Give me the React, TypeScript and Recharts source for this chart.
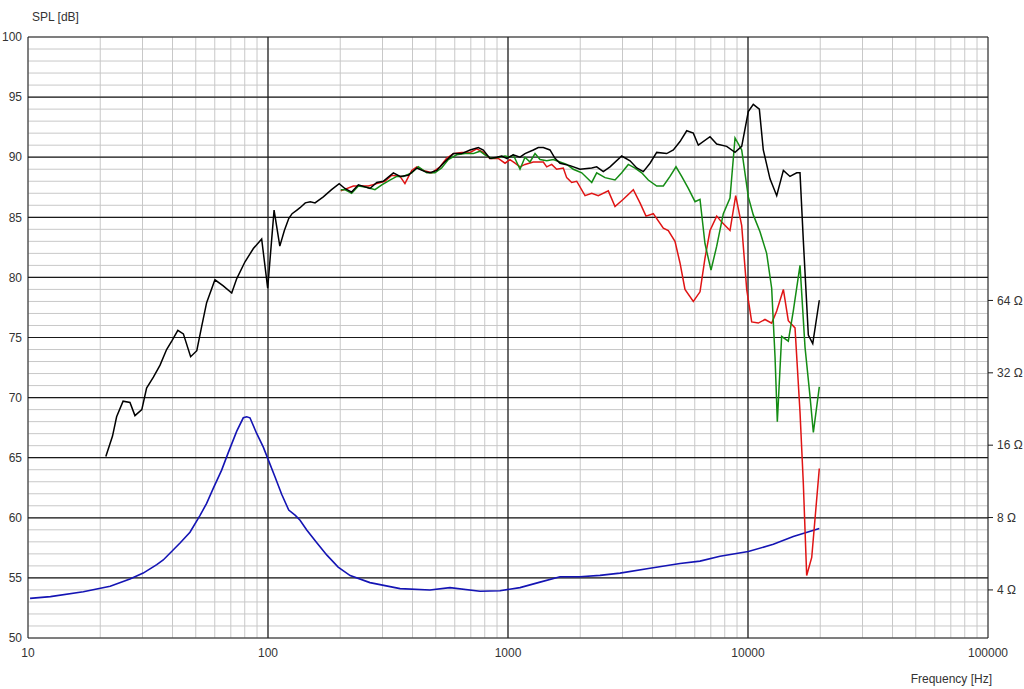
import React from "react";
import { CartesianGrid, Line, LineChart, ReferenceLine, XAxis, YAxis } from "recharts";

// frequency axis grid (log) and level grid
const freqTicks = [
  10, 20, 30, 40, 50, 60, 70, 80, 90,
  100, 200, 300, 400, 500, 600, 700, 800, 900,
  1000, 2000, 3000, 4000, 5000, 6000, 7000, 8000, 9000,
  10000, 20000, 30000, 40000, 50000, 60000, 70000, 80000, 90000,
  100000,
];
const decades = [10, 100, 1000, 10000, 100000];
const splTicks = Array.from({ length: 51 }, (_, i) => 50 + i);
const splMajor = [55, 60, 65, 70, 75, 80, 85, 90, 95];
const ohmTicks = [4, 8, 16, 32, 64];

// on-axis response (black)
const blackFreq = [
  21.1, 22.5, 23.4, 24.9, 26.6, 27.9, 29.8, 31.2, 33.3, 35.5, 37.8, 39.7, 42.1, 44.4, 47.6, 50.5,
  52.9, 55.5, 60.1, 65.1, 70.6, 74.1, 80.2, 86.9, 94.1, 99.7, 106, 112, 117, 122, 126, 132, 136,
  143, 150, 157, 170, 184, 198, 209, 223, 238, 266, 284, 302, 333, 355, 384, 417, 451, 473, 505,
  538, 592, 641, 695, 752, 789, 841, 898, 941, 988, 1052, 1122, 1177, 1275, 1337, 1403, 1496,
  1570, 1647, 1813, 1995, 2233, 2342, 2495, 2661, 2977, 3225, 3439, 3663, 3906, 4165, 4584, 4885,
  5208, 5555, 5918, 6209, 6946, 7407, 8152, 8830, 9414, 10030, 10520, 11150, 11580, 12350, 13170,
  14040, 14960, 15960, 16470, 17000, 17560, 17840, 18610, 19820,
];
const blackSpl = [
  65.1, 66.8, 68.4, 69.7, 69.6, 68.5, 69.0, 70.8, 71.7, 72.7, 74.0, 74.7, 75.6, 75.3, 73.4, 73.9,
  75.9, 77.9, 79.8, 79.3, 78.7, 79.9, 81.3, 82.4, 83.2, 79.1, 85.6, 82.6, 83.9, 84.9, 85.3, 85.6, 85.8,
  86.2, 86.3, 86.2, 86.7, 87.3, 87.8, 87.4, 87.1, 87.7, 87.4, 87.9, 88.0, 88.7, 88.4, 88.5, 89.1, 88.8, 88.7, 88.9,
  89.5, 90.3, 90.3, 90.6, 90.8, 90.6, 89.9, 90.0, 90.1, 89.9, 90.2, 90.0, 90.3, 90.6, 90.8, 90.8, 90.6,
  89.9, 89.5, 89.3, 89.0, 89.1, 89.2, 88.8, 89.2, 90.1, 89.7, 89.1, 88.8, 89.5, 90.4, 90.3, 90.6,
  91.3, 92.2, 92.0, 91.0, 91.7, 91.1, 90.9, 90.4, 90.9, 93.8, 94.4, 94.0, 90.6, 88.2, 86.8,
  88.9, 88.4, 88.7, 88.7, 83.1, 77.8, 75.2, 74.5, 78.1,
];

// red response
const redFreq = [
  201, 227, 242, 262, 284, 307, 328, 355, 372, 397, 417, 444, 481, 521, 555, 592, 641, 695, 741,
  789, 841, 911, 972, 1019, 1070, 1122, 1177, 1275, 1403, 1450, 1521, 1595, 1700, 1756, 1842, 1933,
  2094, 2233, 2378, 2618, 2792, 3023, 3328, 3548, 3758, 4031, 4438, 4655, 4963, 5208, 5463, 5918,
  6310, 6619, 6946, 7407, 7770, 8414, 8887, 9414, 9876, 10360, 11040, 11770, 12550, 13170, 14040,
  14720, 15700, 16470, 17000, 17560, 18430, 19820,
];
const redSpl = [
  87.2, 87.6, 87.6, 87.6, 87.8, 88.0, 88.5, 88.4, 87.8, 88.9, 89.2, 88.9, 88.7, 89.2, 89.9, 90.3, 90.4, 90.4, 90.7,
  90.4, 89.9, 89.9, 89.5, 89.8, 89.5, 89.2, 89.4, 89.6, 89.6, 89.2, 89.4, 89.0, 89.1, 88.3, 87.9, 88.0,
  86.8, 87.0, 86.8, 87.2, 85.9, 86.5, 87.3, 86.2, 85.1, 85.3, 84.1, 83.9, 83.0, 81.2, 79.0, 78.0,
  78.8, 81.6, 83.9, 85.1, 84.6, 83.9, 86.8, 84.3, 79.0, 76.3, 76.2, 76.5, 76.2, 77.2, 79.0,
  76.4, 75.8, 68.8, 62.9, 55.2, 56.7, 64.1,
];

// green response
const greenFreq = [
  201, 209, 223, 238, 258, 279, 298, 322, 344, 366, 397, 423, 459, 496, 529, 564, 611, 662, 717,
  764, 802, 855, 911, 972, 1019, 1052, 1122, 1177, 1235, 1296, 1360, 1450, 1545, 1647, 1756, 1871,
  2029, 2233, 2342, 2537, 2792, 2977, 3172, 3383, 3607, 3842, 4165, 4438, 4732, 5012, 5293, 5641,
  6016, 6310, 6619, 7012, 7407, 7891, 8414, 8830, 9414, 10030, 10520, 11220, 11960, 12550, 12960,
  13250, 13810, 14720, 15440, 16470, 17280, 18130, 18720, 19820,
];
const greenSpl = [
  87.3, 87.3, 87.0, 87.6, 87.5, 87.3, 87.7, 88.1, 88.4, 88.4, 88.7, 89.2, 88.7, 88.7, 89.1, 89.8, 90.2, 90.3, 90.3,
  90.5, 90.2, 89.9, 90.0, 90.1, 90.0, 90.2, 89.0, 90.0, 89.6, 90.3, 89.8, 89.7, 89.8, 89.6, 89.4, 89.0,
  88.7, 87.9, 88.7, 88.3, 88.1, 88.7, 89.4, 89.1, 88.7, 88.1, 87.6, 87.6, 88.4, 89.2, 88.4, 87.4,
  86.3, 86.5, 82.8, 80.6, 82.6, 85.3, 86.6, 91.6, 90.6, 86.7, 85.2, 83.8, 82.0, 79.1, 73.4,
  68.0, 75.1, 74.7, 77.2, 81.0, 74.2, 70.1, 67.1, 70.9,
];

// impedance (blue), ohms
const zFreq = [
  10.2, 12.4, 17.0, 22.0, 26.6, 30.2, 34.4, 36.6, 43.0, 47.3, 52.1, 55.5, 59.2, 64.1, 68.3, 74.1,
  78.9, 81.5, 84.1, 89.7, 95.6, 100.3, 107, 114, 122, 130, 136, 145, 160, 176, 196, 220, 266, 355,
  473, 573, 764, 926, 1122, 1360, 1647, 1995, 2417, 2929, 3906, 5208, 6310, 7644, 10030, 12750,
  15440, 19820,
];
const zOhm = [
  3.69, 3.75, 3.93, 4.14, 4.44, 4.70, 5.10, 5.33, 6.27, 6.95, 8.17, 9.16, 10.6, 12.6, 14.9, 18.3,
  20.8, 21.0, 20.8, 17.9, 15.7, 13.9, 11.8, 10.0, 8.60, 8.17, 7.80, 7.10, 6.27, 5.58, 4.98, 4.59, 4.29, 4.05,
  4.0, 4.09, 3.95, 3.97, 4.09, 4.31, 4.54, 4.54, 4.60, 4.70, 4.92, 5.15, 5.27, 5.52, 5.78, 6.19,
  6.68, 7.20,
];

const zip = (f: number[], v: number[]) => f.map((x, i) => ({ f: x, v: v[i] }));

const font = "'Liberation Sans', Arial, sans-serif";
const tickStyle = { fill: "#333", fontSize: 12, fontFamily: font };
const dark = "#1a1a1a";

const App: React.FC = () => {
  return (
    <div style={{ position: "absolute", left: 0, top: 0, width: 1024, height: 689, background: "#fff" }}>
      <LineChart width={1024} height={689} margin={{ top: 37, right: 0, bottom: 21, left: 0 }}>
        <CartesianGrid stroke="#c8c8c8" strokeWidth={1} yAxisId="spl" />
        <XAxis
          dataKey="f"
          type="number"
          scale="log"
          domain={[10, 100000]}
          allowDataOverflow
          ticks={freqTicks}
          interval={0}
          tickFormatter={(v: number) => (decades.includes(v) ? String(v) : "")}
          tickLine={false}
          tickSize={0}
          tickMargin={10}
          height={30}
          axisLine={{ stroke: dark }}
          tick={tickStyle}
        />
        <YAxis
          yAxisId="spl"
          type="number"
          domain={[50, 100]}
          allowDataOverflow
          ticks={splTicks}
          interval={0}
          tickFormatter={(v: number) => (v % 5 === 0 ? String(v) : "")}
          tickLine={false}
          tickSize={0}
          tickMargin={6}
          width={28}
          axisLine={{ stroke: dark }}
          tick={tickStyle}
        />
        <YAxis
          yAxisId="z"
          orientation="right"
          type="number"
          scale="log"
          domain={[2.524, 798]}
          allowDataOverflow
          ticks={ohmTicks}
          interval={0}
          tickFormatter={(v: number) => `${v} Ω`}
          tickSize={5}
          tickMargin={4}
          tickLine={{ stroke: dark }}
          width={36}
          axisLine={{ stroke: dark }}
          tick={tickStyle}
        />
        {splMajor.map((v) => (
          <ReferenceLine key={"h" + v} y={v} yAxisId="spl" stroke={dark} strokeWidth={1.2} />
        ))}
        <ReferenceLine y={100} yAxisId="spl" stroke={dark} strokeWidth={1.2} />
        {[100, 1000, 10000].map((v) => (
          <ReferenceLine key={"v" + v} x={v} yAxisId="spl" stroke={dark} strokeWidth={1.2} />
        ))}
        <Line data={zip(zFreq, zOhm)} dataKey="v" yAxisId="z" stroke="#1414b4" strokeWidth={1.6} dot={false} isAnimationActive={false} />
        <Line data={zip(redFreq, redSpl)} dataKey="v" yAxisId="spl" stroke="#e01414" strokeWidth={1.5} dot={false} isAnimationActive={false} />
        <Line data={zip(greenFreq, greenSpl)} dataKey="v" yAxisId="spl" stroke="#148c14" strokeWidth={1.5} dot={false} isAnimationActive={false} />
        <Line data={zip(blackFreq, blackSpl)} dataKey="v" yAxisId="spl" stroke="#000" strokeWidth={1.5} dot={false} isAnimationActive={false} />
      </LineChart>
      <span style={{ position: "absolute", left: 32, top: 11, fontSize: 12, lineHeight: "12px", fontFamily: font, color: "#333" }}>
        SPL [dB]
      </span>
      <span style={{ position: "absolute", right: 32, top: 673, fontSize: 12, lineHeight: "12px", fontFamily: font, color: "#333" }}>
        Frequency [Hz]
      </span>
    </div>
  );
};

export default App;
